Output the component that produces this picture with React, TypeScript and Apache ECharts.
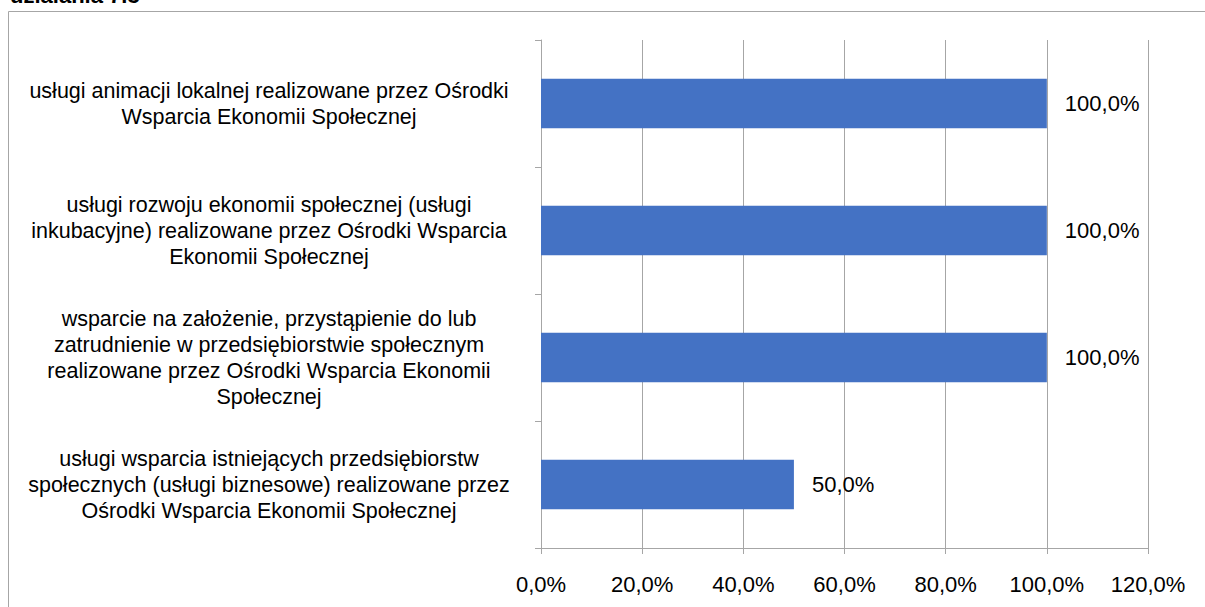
import React, { useEffect, useRef } from "react";
import * as echarts from "echarts";

const categories = [
  "usługi animacji lokalnej realizowane przez Ośrodki\nWsparcia Ekonomii Społecznej",
  "usługi rozwoju ekonomii społecznej (usługi\ninkubacyjne) realizowane przez Ośrodki Wsparcia\nEkonomii Społecznej",
  "wsparcie na założenie, przystąpienie do lub\nzatrudnienie w przedsiębiorstwie społecznym\nrealizowane przez Ośrodki Wsparcia Ekonomii\nSpołecznej",
  "usługi wsparcia istniejących przedsiębiorstw\nspołecznych (usługi biznesowe) realizowane przez\nOśrodki Wsparcia Ekonomii Społecznej",
];
const values = [100, 100, 100, 50];
const titleText = "działania 7.3";

const FONT = "'Liberation Sans', Arial, sans-serif";

export default function App() {
  const ref = useRef<HTMLDivElement>(null);
  useEffect(() => {
    if (!ref.current) return;
    const chart = echarts.init(ref.current, undefined, { renderer: "svg" });
    const fmt = (v: number) => v.toFixed(1).replace(".", ",") + "%";
    chart.setOption({
      animation: false,
      textStyle: { fontFamily: FONT },
      graphic: [
        {
          type: "rect",
          shape: { x: 8.5, y: 11.5, width: 1400, height: 800 },
          style: { fill: "none", stroke: "#a6a6a6", lineWidth: 1 },
          silent: true,
        },
        {
          type: "text",
          x: 10,
          y: -16,
          style: {
            text: titleText,
            fontSize: 22,
            fontWeight: "bold",
            fontFamily: FONT,
            fill: "#000",
            verticalAlign: "top",
          },
        },
      ],
      grid: { left: 541, right: 57, top: 40, bottom: 59, containLabel: false },
      xAxis: {
        type: "value",
        min: 0,
        max: 120,
        interval: 20,
        axisLine: { show: true, lineStyle: { color: "#a6a6a6", width: 1 } },
        axisTick: { show: true, length: 6, lineStyle: { color: "#a6a6a6" } },
        splitLine: { show: true, lineStyle: { color: "#a6a6a6", width: 1 } },
        axisLabel: {
          formatter: (v: number) => fmt(v),
          fontSize: 22,
          color: "#000",
          margin: 25,
          fontFamily: FONT,
        },
      },
      yAxis: {
        type: "category",
        inverse: true,
        data: categories,
        axisLine: { show: true, lineStyle: { color: "#a6a6a6", width: 1 } },
        axisTick: { show: true, length: 6, lineStyle: { color: "#a6a6a6" } },
        splitLine: { show: false },
        axisLabel: {
          align: "center",
          margin: 272,
          fontSize: 21.5,
          lineHeight: 26,
          color: "#000",
          fontFamily: FONT,
        },
      },
      series: [
        {
          type: "bar",
          data: values,
          barCategoryGap: "61%",
          itemStyle: { color: "#4472c4" },
          label: {
            show: true,
            position: "right",
            distance: 18,
            formatter: (p: any) => fmt(p.value),
            fontSize: 22,
            color: "#000",
            fontFamily: FONT,
          },
        },
      ],
    });
    return () => chart.dispose();
  }, []);
  return (
    <div
      ref={ref}
      style={{ position: "absolute", left: 0, top: 0, width: 1205, height: 607 }}
    />
  );
}
